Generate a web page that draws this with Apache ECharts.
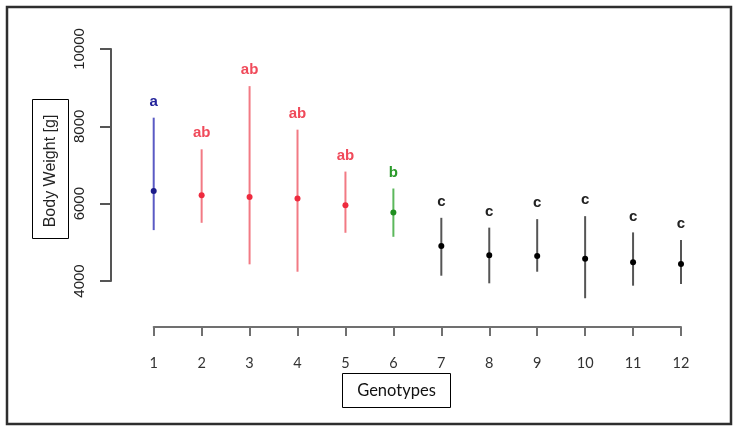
<!DOCTYPE html>
<html>
<head>
<meta charset="utf-8">
<script src="https://cdn.jsdelivr.net/npm/echarts@6/dist/echarts.min.js"></script>
<style>
html,body{margin:0;padding:0;background:#fff;}
#chart{width:740px;height:433px;}
</style>
</head>
<body>
<div id="chart"></div>
<script>
// Data
const genotypes = [1, 2, 3, 4, 5, 6, 7, 8, 9, 10, 11, 12];
const means = [6330, 6220, 6170, 6135, 5960, 5770, 4903, 4665, 4648, 4576, 4482, 4440];
const lows  = [5316, 5505, 4431, 4240, 5247, 5143, 4137, 3940, 4240, 3554, 3879, 3923];
const highs = [8224, 7406, 9040, 7914, 6830, 6392, 5634, 5380, 5600, 5677, 5257, 5058];
const letters = ['a', 'ab', 'ab', 'ab', 'ab', 'b', 'c', 'c', 'c', 'c', 'c', 'c'];
const yTicks = [4000, 6000, 8000, 10000];

const palette = {
  a:  { line: '#5a5ac4', dot: '#1c1c8a', text: '#22229a' },
  ab: { line: '#f27a84', dot: '#ee2a3e', text: '#f04a5a' },
  b:  { line: '#5cb85c', dot: '#1f8f1f', text: '#2a9a2a' },
  c:  { line: '#555555', dot: '#000000', text: '#222222' }
};

const seriesData = genotypes.map((g, i) => [g, means[i], lows[i], highs[i]]);

const chart = echarts.init(document.getElementById('chart'), null, { renderer: 'canvas' });

chart.setOption({
  animation: false,
  backgroundColor: '#fff',
  grid: { left: 153.7, right: 59, top: 49, bottom: 152, containLabel: false },
  xAxis: {
    type: 'value',
    min: 1, max: 12, interval: 1,
    offset: 46,
    splitLine: { show: false },
    axisLine: { show: true, lineStyle: { color: '#707070', width: 2 } },
    axisTick: { show: true, length: 9, lineStyle: { color: '#707070', width: 2 } },
    axisLabel: {
      margin: 29,
      color: '#333',
      fontFamily: 'Lato',
      fontSize: 14.5,
      formatter: v => String(genotypes[v - 1] !== undefined ? genotypes[v - 1] : '')
    }
  },
  yAxis: {
    type: 'value',
    min: yTicks[0], max: yTicks[yTicks.length - 1], interval: 2000,
    offset: 42.7,
    splitLine: { show: false },
    axisLine: { show: true, lineStyle: { color: '#555', width: 2 } },
    axisTick: { show: true, length: 11, lineStyle: { color: '#555', width: 2 } },
    axisLabel: {
      rotate: 90,
      margin: 24,
      color: '#222',
      fontFamily: 'Liberation Sans',
      fontSize: 15,
      formatter: v => String(v)
    }
  },
  graphic: [
    {
      type: 'rect',
      shape: { x: 7, y: 7, width: 724, height: 417 },
      style: { fill: 'none', stroke: '#2e2e2e', lineWidth: 2.5 },
      z: 10
    },
    {
      type: 'rect',
      shape: { x: 32.5, y: 99.5, width: 36, height: 139 },
      style: { fill: '#fff', stroke: '#000', lineWidth: 1 }
    },
    {
      type: 'text',
      x: 51, y: 171, rotation: Math.PI / 2,
      style: {
        text: 'Body Weight [g]', fill: '#222',
        font: '16px "Liberation Sans"', align: 'center', verticalAlign: 'middle'
      }
    },
    {
      type: 'rect',
      shape: { x: 342.5, y: 373.5, width: 108, height: 34 },
      style: { fill: '#fff', stroke: '#000', lineWidth: 1 }
    },
    {
      type: 'text',
      x: 396.5, y: 391,
      style: {
        text: 'Genotypes', fill: '#111',
        font: '16.5px Lato', align: 'center', verticalAlign: 'middle'
      }
    }
  ],
  series: [{
    type: 'custom',
    clip: false,
    data: seriesData,
    renderItem: function (params, api) {
      const i = params.dataIndex;
      const x = api.value(0), m = api.value(1), lo = api.value(2), hi = api.value(3);
      const pLo = api.coord([x, lo]);
      const pHi = api.coord([x, hi]);
      const pM = api.coord([x, m]);
      const c = palette[letters[i]];
      return {
        type: 'group',
        children: [
          { type: 'line', shape: { x1: pLo[0], y1: pLo[1], x2: pHi[0], y2: pHi[1] },
            style: { stroke: c.line, lineWidth: 2 } },
          { type: 'circle', shape: { cx: pM[0], cy: pM[1], r: 3 },
            style: { fill: c.dot } },
          { type: 'text', x: pHi[0], y: pHi[1] - 16,
            style: { text: letters[i], fill: c.text, font: 'bold 15px "Liberation Sans"',
                     align: 'center', verticalAlign: 'middle' } }
        ]
      };
    }
  }]
});
</script>
</body>
</html>
